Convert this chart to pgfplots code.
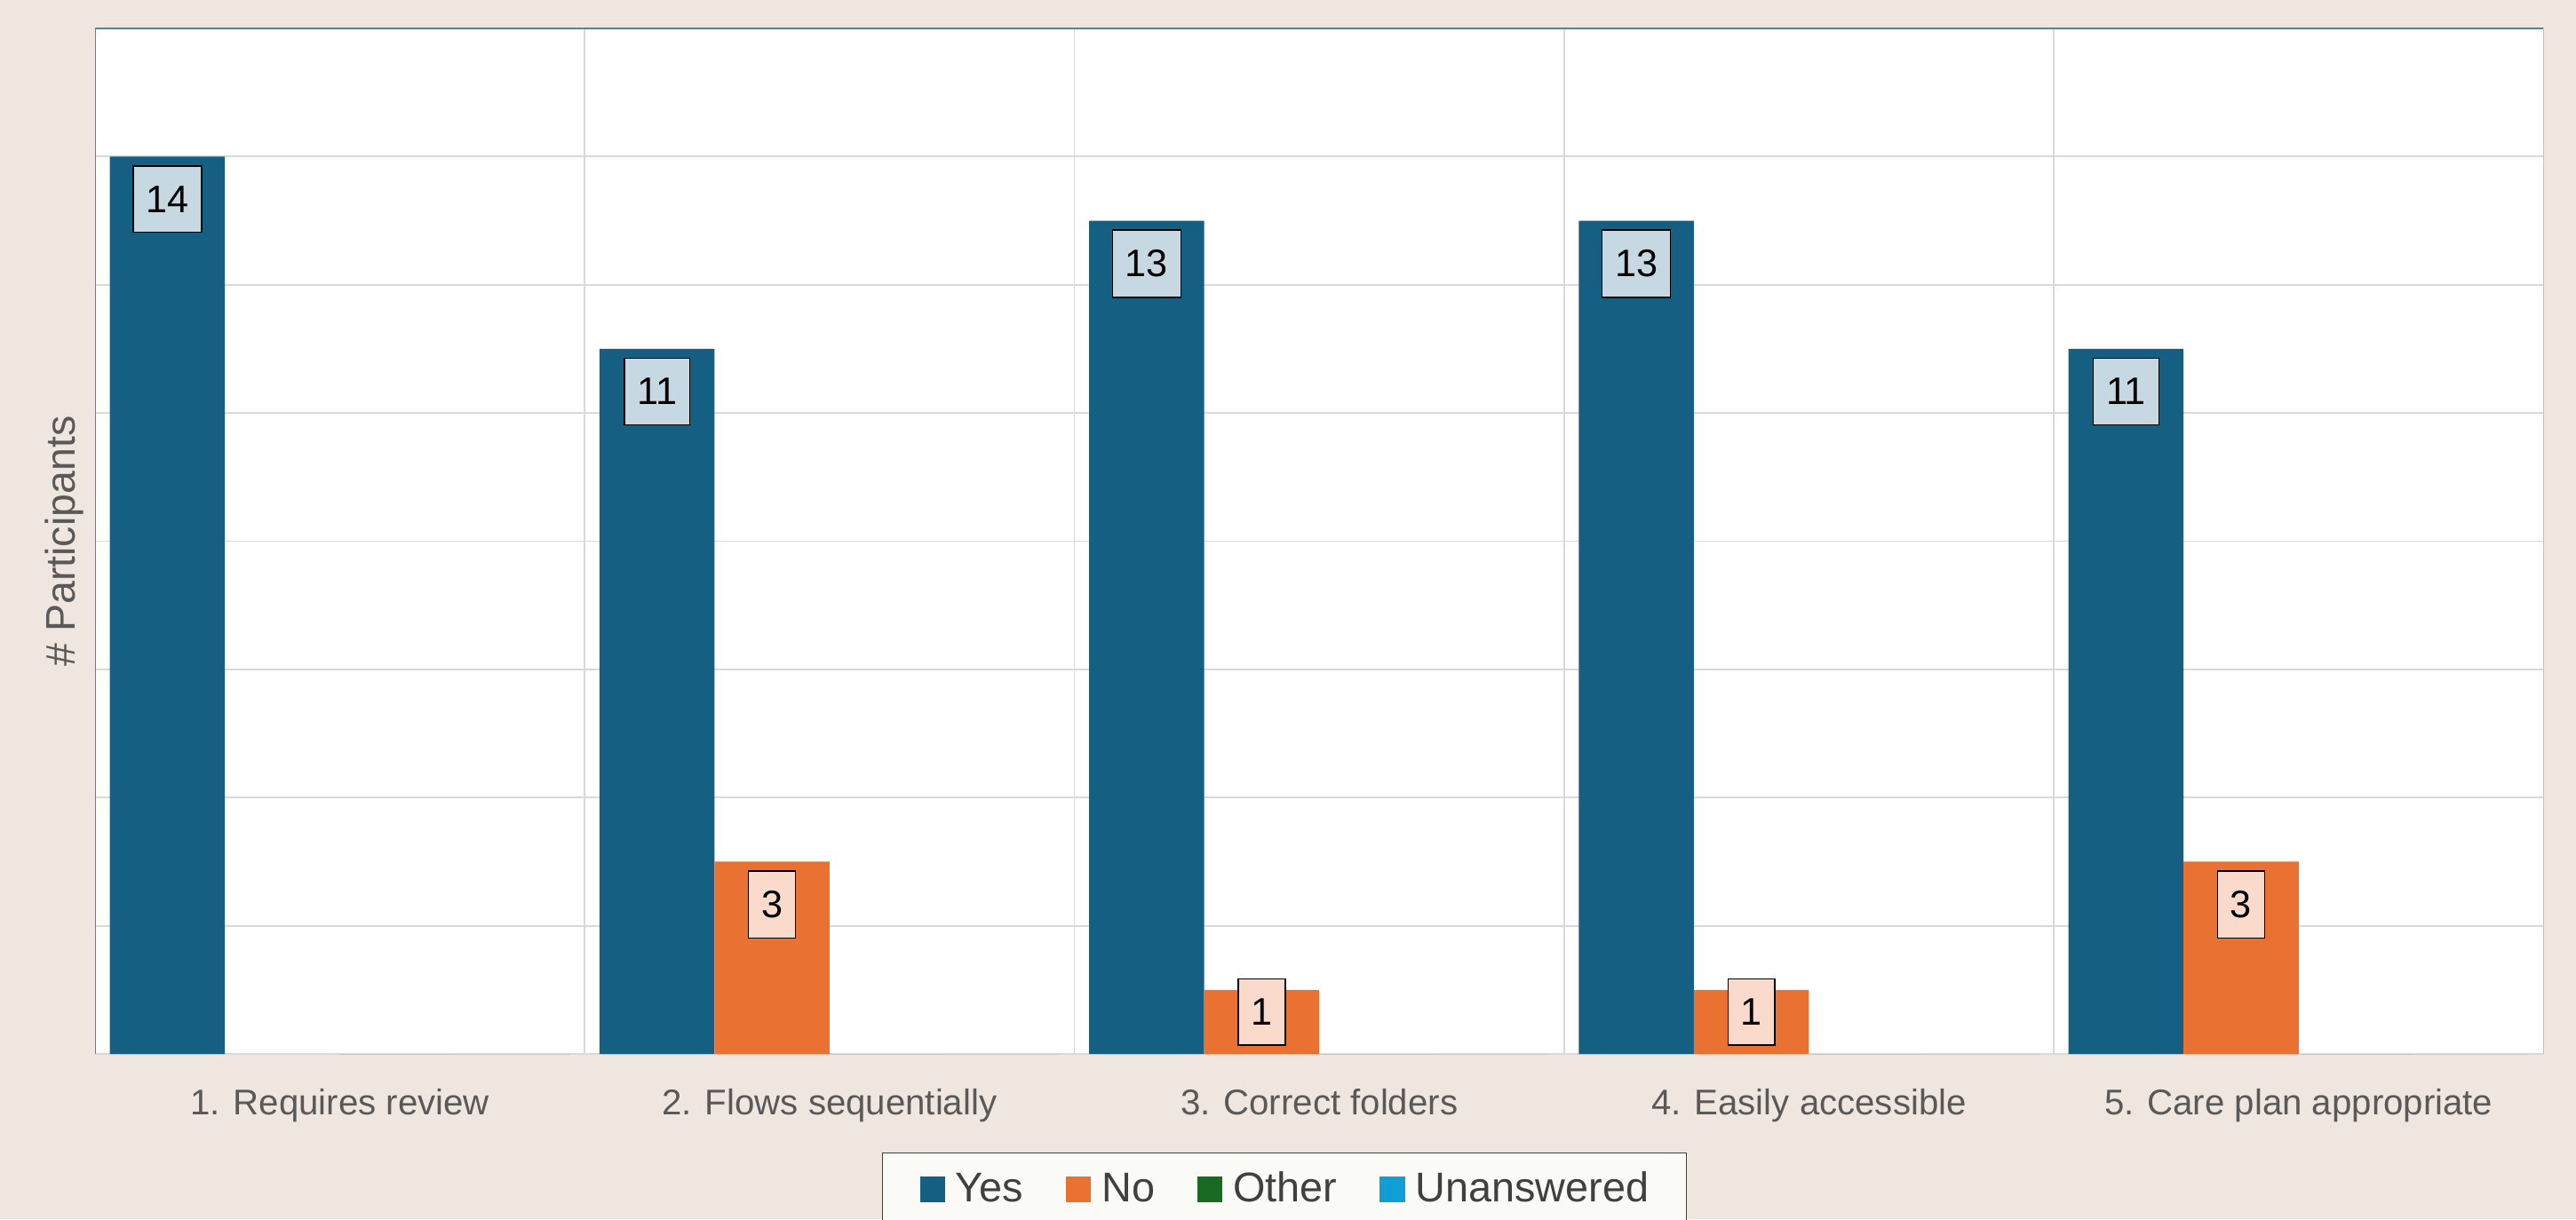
\documentclass[border=0pt]{standalone}
\usepackage{fontspec}
\setmainfont{Liberation Sans}
\usepackage{pgfplots}
\pgfplotsset{compat=1.18}

\definecolor{cyes}{HTML}{156082}
\definecolor{cno}{HTML}{E97132}
\definecolor{cother}{HTML}{196B24}
\definecolor{cuna}{HTML}{0F9ED5}
\definecolor{lyes}{HTML}{C6D9E3}
\definecolor{lno}{HTML}{FADBCB}
\definecolor{bg}{HTML}{EFE6E0}
\definecolor{framec}{HTML}{4F86A8}
\definecolor{gridc}{HTML}{D9D9D9}
\definecolor{txt}{HTML}{595959}
\definecolor{ltxt}{HTML}{404040}
\definecolor{legf}{HTML}{FAFAF6}

\pgfplotsset{
  sqleg/.style={legend image code/.code={\fill[##1] (0pt,0pt) rectangle (9.4pt,9.6pt);}},
  lab/.style={nodes near coords,
    every node near coord/.append style={anchor=north, yshift=-3.3pt, fill=#1,
      draw=black, line width=0.5pt, text=black, inner xsep=4.8pt, inner ysep=7.5pt,
      font=\fontsize{14.4}{16}\selectfont}},
}

\begin{document}
\begin{tikzpicture}
\useasboundingbox (0,0) rectangle (966.67pt,457.67pt);
\fill[bg] (0,0) rectangle (966.67pt,457.67pt);
\begin{axis}[
  at={(35.67pt,62pt)}, anchor=south west,
  scale only axis, width=918.8pt, height=385pt,
  xmin=-0.5, xmax=4.5, ymin=0, ymax=16,
  ybar=0pt, bar width=0.235,
  /pgf/number format/assume math mode=true,
  xtick={0,...,4},
  xticklabels={1. Requires review, 2. Flows sequentially, 3. Correct folders,
               4. Easily accessible, 5. Care plan appropriate},
  minor xtick={0.5,1.5,2.5,3.5},
  ytick={2,4,...,14}, yticklabels={},
  ymajorgrids, xminorgrids,
  grid style={gridc, line width=0.6pt},
  minor grid style={gridc, line width=0.6pt},
  major tick length=0pt, minor tick length=0pt,
  axis line style={draw=none},
  axis background/.style={fill=white},
  ticklabel style={font=\fontsize{13.4}{16}\selectfont, text=txt},
  xticklabel style={yshift=-9.5pt},
  ylabel={\# Participants},
  every axis y label/.style={at={(axis description cs:-0.00835,0.5)}, rotate=90,
    anchor=base, font=\fontsize{15.5}{18}\selectfont, text=txt},
  legend columns=4,
  legend style={at={(0.4858,-0.0961)}, anchor=north, fill=legf, draw=ltxt,
    line width=0.4pt, inner xsep=14pt, inner ysep=7pt,
    font=\fontsize{15.6}{18}\selectfont,
    nodes={inner sep=0pt, text=ltxt}, cells={anchor=base west},
    /tikz/every odd column/.append style={column sep=4pt},
    /tikz/every even column/.append style={column sep=16pt}},
]
\draw[gridc, line width=0.8pt] (rel axis cs:0,0) -- (rel axis cs:1,0);

\addplot[fill=cyes, draw=none, sqleg, lab=lyes]
  coordinates {(0,14) (1,11) (2,13) (3,13) (4,11)};
\addlegendentry{Yes}
\addplot[fill=cno, draw=none, sqleg, lab=lno,
  coordinate style/.condition={y<2}{yshift=7.7pt}]
  coordinates {(1,3) (2,1) (3,1) (4,3)};
\addlegendentry{No}
\addplot[fill=cother, draw=none, sqleg]
  coordinates {(0,0) (1,0) (2,0) (3,0) (4,0)};
\addlegendentry{Other}
\addplot[fill=cuna, draw=none, sqleg]
  coordinates {(0,0) (1,0) (2,0) (3,0) (4,0)};
\addlegendentry{Unanswered}

\draw[framec, line width=0.6pt] (rel axis cs:0,0) -- (rel axis cs:0,1)
  -- (rel axis cs:1,1) -- (rel axis cs:1,0);
\end{axis}
\end{tikzpicture}
\end{document}
